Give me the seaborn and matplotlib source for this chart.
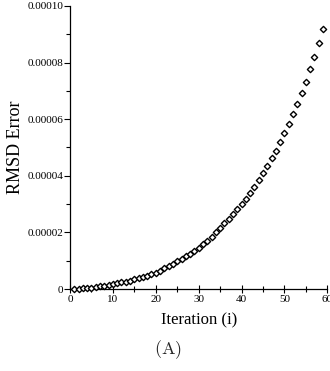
import numpy as np
import pandas as pd
import matplotlib
matplotlib.use("Agg")
import matplotlib.pyplot as plt
from matplotlib.ticker import MultipleLocator, FuncFormatter
import seaborn as sns

# RMSD error per iteration (values in units of 1e-6)
iterations = list(range(1, 60))
rmsd_e6 = [
    0.0, 0.1, 0.2, 0.35, 0.5, 0.7, 0.9, 1.1, 1.4, 1.7,
    2.0, 2.3, 2.6, 3.0, 3.4, 3.8, 4.2, 4.7, 5.2, 5.8,
    6.5, 7.3, 8.1, 9.0, 9.8, 10.6, 11.6, 12.5, 13.5, 14.6,
    15.8, 17.1, 18.5, 20.0, 21.6, 23.2, 24.9, 26.5, 28.2, 30.0,
    31.9, 34.0, 36.2, 38.5, 40.9, 43.5, 46.2, 48.9, 51.9, 55.0,
    58.3, 61.8, 65.5, 69.3, 73.3, 77.6, 82.1, 86.8, 91.8,
]
x_label = "Iteration (i)"
y_label = "RMSD Error"
panel_label = r"$\mathrm{(A)}$"

df = pd.DataFrame({"iteration": iterations,
                   "rmsd": np.array(rmsd_e6) * 1e-6})

sns.set_theme(style="white")
plt.rcParams["font.family"] = ["Liberation Serif", "DejaVu Serif"]
plt.rcParams["mathtext.fontset"] = "cm"

fig = plt.figure(figsize=(3.30, 3.71), dpi=100)
ax = fig.add_axes([0.212, 0.221, 0.780, 0.763])

sns.scatterplot(data=df, x="iteration", y="rmsd", ax=ax, marker="D",
                s=10, facecolor="white", edgecolor="black", linewidth=1.0,
                legend=False, zorder=3, clip_on=False)

ax.set_xlim(0, 60)
ax.set_ylim(0, 0.0001)
ax.xaxis.set_major_locator(MultipleLocator(10))
ax.xaxis.set_minor_locator(MultipleLocator(5))
ax.yaxis.set_major_locator(MultipleLocator(0.00002))
ax.yaxis.set_minor_locator(MultipleLocator(0.00001))
ax.yaxis.set_major_formatter(
    FuncFormatter(lambda v, _: "0" if abs(v) < 1e-12 else f"{v:.5f}"))

sns.despine(ax=ax)
for side in ("left", "bottom"):
    ax.spines[side].set_color("black")
    ax.spines[side].set_linewidth(0.9)

ax.tick_params(axis="x", which="both", direction="inout", colors="black",
               labelsize=8, width=0.8, pad=1)
ax.tick_params(axis="x", which="major", length=6)
ax.tick_params(axis="x", which="minor", length=5)
ax.tick_params(axis="y", which="both", direction="out", colors="black",
               labelsize=8, width=0.8, pad=1)
ax.tick_params(axis="y", which="major", length=4)
ax.tick_params(axis="y", which="minor", length=3)
ax.tick_params(bottom=True, left=True, which="both")

ax.set_xlabel(x_label, fontsize=12, color="black", labelpad=6)
ax.set_ylabel(y_label, fontsize=13, color="black", labelpad=2)
ax.grid(False)

fig.text(0.51, 0.058, panel_label, ha="center", va="center", fontsize=13)

fig.savefig("out.png", dpi=100)
